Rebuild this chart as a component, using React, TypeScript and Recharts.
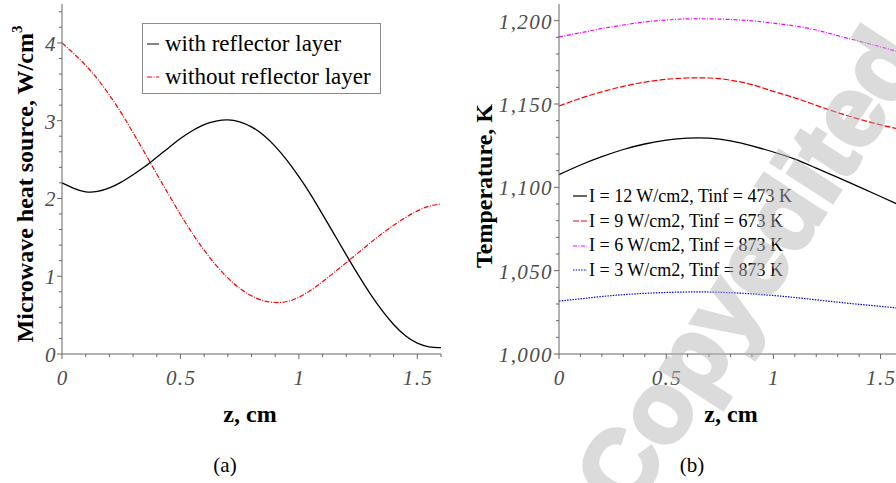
import React from 'react';
import { LineChart, Line, XAxis, YAxis, Legend } from 'recharts';

// ---- (a) microwave heat source along z ----
const zFine = [
  0, 0.05, 0.1, 0.15, 0.2, 0.25, 0.3, 0.35, 0.4, 0.45, 0.5, 0.55, 0.6, 0.65, 0.7, 0.75, 0.8,
  0.85, 0.9, 0.95, 1.0, 1.05, 1.1, 1.15, 1.2, 1.25, 1.3, 1.35, 1.4, 1.45, 1.5, 1.55, 1.6,
];
const withReflector = [
  2.2, 2.13, 2.085, 2.09, 2.135, 2.21, 2.305, 2.41, 2.53, 2.65, 2.77, 2.87, 2.95, 2.995, 3.01, 2.985, 2.92,
  2.815, 2.67, 2.49, 2.28, 2.05, 1.795, 1.535, 1.275, 1.02, 0.78, 0.565, 0.38, 0.235, 0.14, 0.093, 0.082,
];
const withoutReflector = [
  4.0, 3.862, 3.71, 3.535, 3.33, 3.1, 2.845, 2.583, 2.315, 2.053, 1.793, 1.553, 1.335, 1.143, 0.978, 0.845, 0.748,
  0.685, 0.662, 0.675, 0.73, 0.82, 0.93, 1.05, 1.175, 1.3, 1.425, 1.545, 1.655, 1.755, 1.84, 1.9, 1.93,
];

// ---- (b) temperature along z ----
const zCoarse = [0, 0.1, 0.2, 0.3, 0.4, 0.5, 0.6, 0.7, 0.8, 0.9, 1.0, 1.1, 1.2, 1.3, 1.4, 1.5, 1.6];
const tempI12 = [
  1107.6, 1113.4, 1118.4, 1122.7, 1126.0, 1128.3, 1129.5, 1129.5, 1127.9, 1124.9, 1121.2, 1116.9,
  1111.5, 1106.0, 1100.3, 1094.5, 1088.6,
];
const tempI9 = [
  1148.8, 1153.4, 1157.3, 1160.6, 1163.1, 1164.8, 1165.6, 1165.6, 1164.3, 1161.6, 1157.6, 1153.7,
  1149.2, 1144.8, 1140.9, 1137.5, 1134.5,
];
const tempI6 = [
  1190.3, 1192.7, 1195.3, 1197.4, 1199.2, 1200.4, 1201.1, 1201.1, 1200.7, 1199.9, 1198.5, 1196.8,
  1194.4, 1191.0, 1187.7, 1184.3, 1180.6,
];
const tempI3 = [
  1031.8, 1033.1, 1034.5, 1035.6, 1036.4, 1036.9, 1037.2, 1037.2, 1036.8, 1036.1, 1035.1, 1033.9,
  1032.5, 1031.1, 1029.8, 1028.6, 1027.3,
];

// ---- axis tick values ----
const zMajorTicks = [0, 0.5, 1, 1.5];
const heatMajorTicks = [0, 1, 2, 3, 4];
const tempMajorTicks = [1000, 1050, 1100, 1150, 1200];

const stepList = (from: number, to: number, step: number) => {
  const out: number[] = [];
  const n = Math.round((to - from) / step);
  for (let i = 0; i <= n; i++) out.push(Number((from + i * step).toFixed(6)));
  return out;
};
const zAllTicks = stepList(0, 1.6, 0.1);
const heatAllTicks = stepList(0, 4.4, 0.2);
const tempAllTicks = stepList(1000, 1200, 10);

const leftRows = zFine.map((z, i) => ({ z, withRef: withReflector[i], withoutRef: withoutReflector[i] }));
const rightRows = zCoarse.map((z, i) => ({ z, i12: tempI12[i], i9: tempI9[i], i6: tempI6[i], i3: tempI3[i] }));

const leftSeries = [
  { key: 'withRef', name: 'with reflector layer', color: '#000000', dash: undefined as string | undefined, width: 1.3 },
  { key: 'withoutRef', name: 'without reflector layer', color: '#ff0000', dash: '5 1.5 1 1.5', width: 1.2 },
];
const rightSeries = [
  { key: 'i12', name: 'I = 12 W/cm2, Tinf = 473 K', color: '#000000', dash: undefined as string | undefined, width: 1.3 },
  { key: 'i9', name: 'I = 9 W/cm2, Tinf = 673 K', color: '#ff0000', dash: '6 2', width: 1.2 },
  { key: 'i6', name: 'I = 6 W/cm2, Tinf = 873 K', color: '#ff00ff', dash: '4 1.5 1 1.5', width: 1.2 },
  { key: 'i3', name: 'I = 3 W/cm2, Tinf = 873 K', color: '#0000ff', dash: '1.5 1.2', width: 1.2 },
];

const SERIF = '"Liberation Serif", "Times New Roman", serif';
const AXIS_COLOR = '#666666';
const FRAME_COLOR = '#a0a0a0';
const TICK_TEXT = '#4d4d4d';

const isMajor = (majors: number[], v: number) => majors.some((m) => Math.abs(m - v) < 1e-6);

const makeBottomTick = (majors: number[], fmt: (v: number) => string) => (props: any) => {
  const { x, y, payload } = props;
  const v = payload.value as number;
  const major = isMajor(majors, v);
  return (
    <g>
      <line x1={x} y1={y} x2={x} y2={y + (major ? 5 : 3)} stroke={AXIS_COLOR} strokeWidth={1} />
      {major && (
        <text x={x + 0.7} y={y + 31} textAnchor="middle" fill={TICK_TEXT} fontFamily={SERIF} fontStyle="italic" fontSize={21} letterSpacing={1.4}>
          {fmt(v)}
        </text>
      )}
    </g>
  );
};

const makeLeftTick = (majors: number[], fmt: (v: number) => string, gap: number) => (props: any) => {
  const { x, y, payload } = props;
  const v = payload.value as number;
  const major = isMajor(majors, v);
  return (
    <g>
      <line x1={x} y1={y} x2={x - (major ? 5 : 3)} y2={y} stroke={AXIS_COLOR} strokeWidth={1} />
      {major && (
        <text x={x - gap} y={y + 8} textAnchor="end" fill={TICK_TEXT} fontFamily={SERIF} fontStyle="italic" fontSize={21} letterSpacing={1.4}>
          {fmt(v)}
        </text>
      )}
    </g>
  );
};

const fmtZ = (v: number) => String(v);
const fmtHeat = (v: number) => String(v);
const fmtTemp = (v: number) => v.toLocaleString('en-US');

const LeftLegend = () => (
  <div
    style={{
      border: '1px solid #8c8c8c',
      background: '#fff',
      boxSizing: 'border-box',
      width: 239,
      height: 71,
      padding: '3px 0 0 3px',
      fontFamily: SERIF,
      fontSize: 23,
      lineHeight: '33px',
      color: '#000',
    }}
  >
    {leftSeries.map((s) => (
      <div key={s.key} style={{ display: 'flex', alignItems: 'center', whiteSpace: 'nowrap' }}>
        <svg width={16} height={10} style={{ marginRight: 3 }}>
          <line x1={1} y1={5} x2={13} y2={5} stroke={s.color === '#000000' ? '#333' : s.color} strokeWidth={1.2} strokeDasharray={s.dash} />
        </svg>
        <span>{s.name}</span>
      </div>
    ))}
  </div>
);

const RightLegend = () => (
  <div style={{ fontFamily: SERIF, fontSize: 18, lineHeight: '24.7px', color: '#000' }}>
    {rightSeries.map((s) => (
      <div key={s.key} style={{ display: 'flex', alignItems: 'center', whiteSpace: 'nowrap' }}>
        <svg width={15} height={10} style={{ marginRight: 1 }}>
          <line x1={0} y1={5} x2={14} y2={5} stroke={s.color} strokeWidth={1.2} strokeDasharray={s.dash} />
        </svg>
        <span>{s.name}</span>
      </div>
    ))}
  </div>
);

const titleStyle: React.CSSProperties = {
  position: 'absolute',
  fontFamily: SERIF,
  fontWeight: 'bold',
  fontSize: 24,
  color: '#000',
  whiteSpace: 'nowrap',
  lineHeight: 1,
};

export default function App() {
  return (
    <div style={{ position: 'fixed', left: 0, top: 0, width: 896, height: 483, overflow: 'hidden', background: '#fff' }}>
      {/* (a) */}
      <div style={{ position: 'absolute', left: 0, top: 0 }}>
        <LineChart width={450} height={483} data={leftRows} margin={{ top: 4, right: 9, bottom: 89, left: 0 }}>
          <XAxis
            dataKey="z"
            type="number"
            domain={[0, 1.6]}
            ticks={zAllTicks}
            interval={0}
            tickSize={0}
            tickMargin={0}
            tickLine={false}
            height={40}
            axisLine={{ stroke: AXIS_COLOR }}
            tick={makeBottomTick(zMajorTicks, fmtZ)}
          />
          <XAxis xAxisId="frameTop" orientation="top" dataKey="z" type="number" domain={[0, 1.6]} height={0} tick={false} tickLine={false} axisLine={{ stroke: FRAME_COLOR }} />
          <YAxis
            type="number"
            domain={[0, 4.5]}
            ticks={heatAllTicks}
            interval={0}
            tickSize={0}
            tickMargin={0}
            tickLine={false}
            width={62}
            axisLine={{ stroke: AXIS_COLOR }}
            tick={makeLeftTick(heatMajorTicks, fmtHeat, 5)}
          />
          <YAxis yAxisId="frameRight" orientation="right" type="number" domain={[0, 4.5]} width={0} tick={false} tickLine={false} axisLine={{ stroke: FRAME_COLOR }} />
          <Legend
            layout="vertical"
            align="center"
            verticalAlign="middle"
            wrapperStyle={{ left: 142, top: 23, width: 239, height: 71 }}
            content={() => <LeftLegend />}
          />
          {leftSeries.map((s) => (
            <Line
              key={s.key}
              type="natural"
              dataKey={s.key}
              name={s.name}
              stroke={s.color}
              strokeWidth={s.width}
              strokeDasharray={s.dash}
              dot={false}
              activeDot={false}
              isAnimationActive={false}
            />
          ))}
        </LineChart>
      </div>

      {/* (b) */}
      <div style={{ position: 'absolute', left: 460, top: 0 }}>
        <LineChart width={450} height={483} data={rightRows} margin={{ top: 4, right: 8, bottom: 89, left: 0 }}>
          <XAxis
            dataKey="z"
            type="number"
            domain={[0, 1.6]}
            ticks={zAllTicks}
            interval={0}
            tickSize={0}
            tickMargin={0}
            tickLine={false}
            height={40}
            axisLine={{ stroke: AXIS_COLOR }}
            tick={makeBottomTick(zMajorTicks, fmtZ)}
          />
          <XAxis xAxisId="frameTop" orientation="top" dataKey="z" type="number" domain={[0, 1.6]} height={0} tick={false} tickLine={false} axisLine={{ stroke: FRAME_COLOR }} />
          <YAxis
            type="number"
            domain={[1000, 1210]}
            ticks={tempAllTicks}
            interval={0}
            tickSize={0}
            tickMargin={0}
            tickLine={false}
            width={99}
            axisLine={{ stroke: AXIS_COLOR }}
            tick={makeLeftTick(tempMajorTicks, fmtTemp, 6)}
          />
          <YAxis yAxisId="frameRight" orientation="right" type="number" domain={[1000, 1210]} width={0} tick={false} tickLine={false} axisLine={{ stroke: FRAME_COLOR }} />
          <Legend
            layout="vertical"
            align="center"
            verticalAlign="middle"
            wrapperStyle={{ left: 113, top: 184, width: 260 }}
            content={() => <RightLegend />}
          />
          {rightSeries.map((s) => (
            <Line
              key={s.key}
              type="natural"
              dataKey={s.key}
              name={s.name}
              stroke={s.color}
              strokeWidth={s.width}
              strokeDasharray={s.dash}
              dot={false}
              activeDot={false}
              isAnimationActive={false}
            />
          ))}
        </LineChart>
      </div>

      {/* axis titles and captions */}
      <div style={{ ...titleStyle, left: 25, top: 184, transform: 'translate(-50%, -50%) rotate(-90deg)' }}>
        Microwave heat source, W/cm<span style={{ fontSize: 15, position: 'relative', top: -11 }}>3</span>
      </div>
      <div style={{ ...titleStyle, left: 250, top: 414, transform: 'translate(-50%, -50%)' }}>z, cm</div>
      <div style={{ ...titleStyle, left: 484, top: 186, transform: 'translate(-50%, -50%) rotate(-90deg)' }}>Temperature, K</div>
      <div style={{ ...titleStyle, left: 731, top: 414, transform: 'translate(-50%, -50%)' }}>z, cm</div>
      <div style={{ ...titleStyle, fontWeight: 'normal', fontSize: 21, left: 225, top: 465, transform: 'translate(-50%, -50%)' }}>(a)</div>
      <div style={{ ...titleStyle, fontWeight: 'normal', fontSize: 21, left: 692, top: 465, transform: 'translate(-50%, -50%)' }}>(b)</div>

      {/* watermark stamp */}
      <div
        style={{
          position: 'absolute',
          left: 748,
          top: 268,
          transform: 'translate(-50%, -50%) rotate(-57deg)',
          fontFamily: '"Liberation Sans", Arial, sans-serif',
          fontWeight: 'bold',
          fontSize: 100,
          lineHeight: 1,
          color: 'rgb(180,180,180)',
          WebkitTextStroke: '4px rgb(180,180,180)',
          opacity: 0.47,
          whiteSpace: 'nowrap',
          pointerEvents: 'none',
        }}
      >
        Copyedited
      </div>
    </div>
  );
}
